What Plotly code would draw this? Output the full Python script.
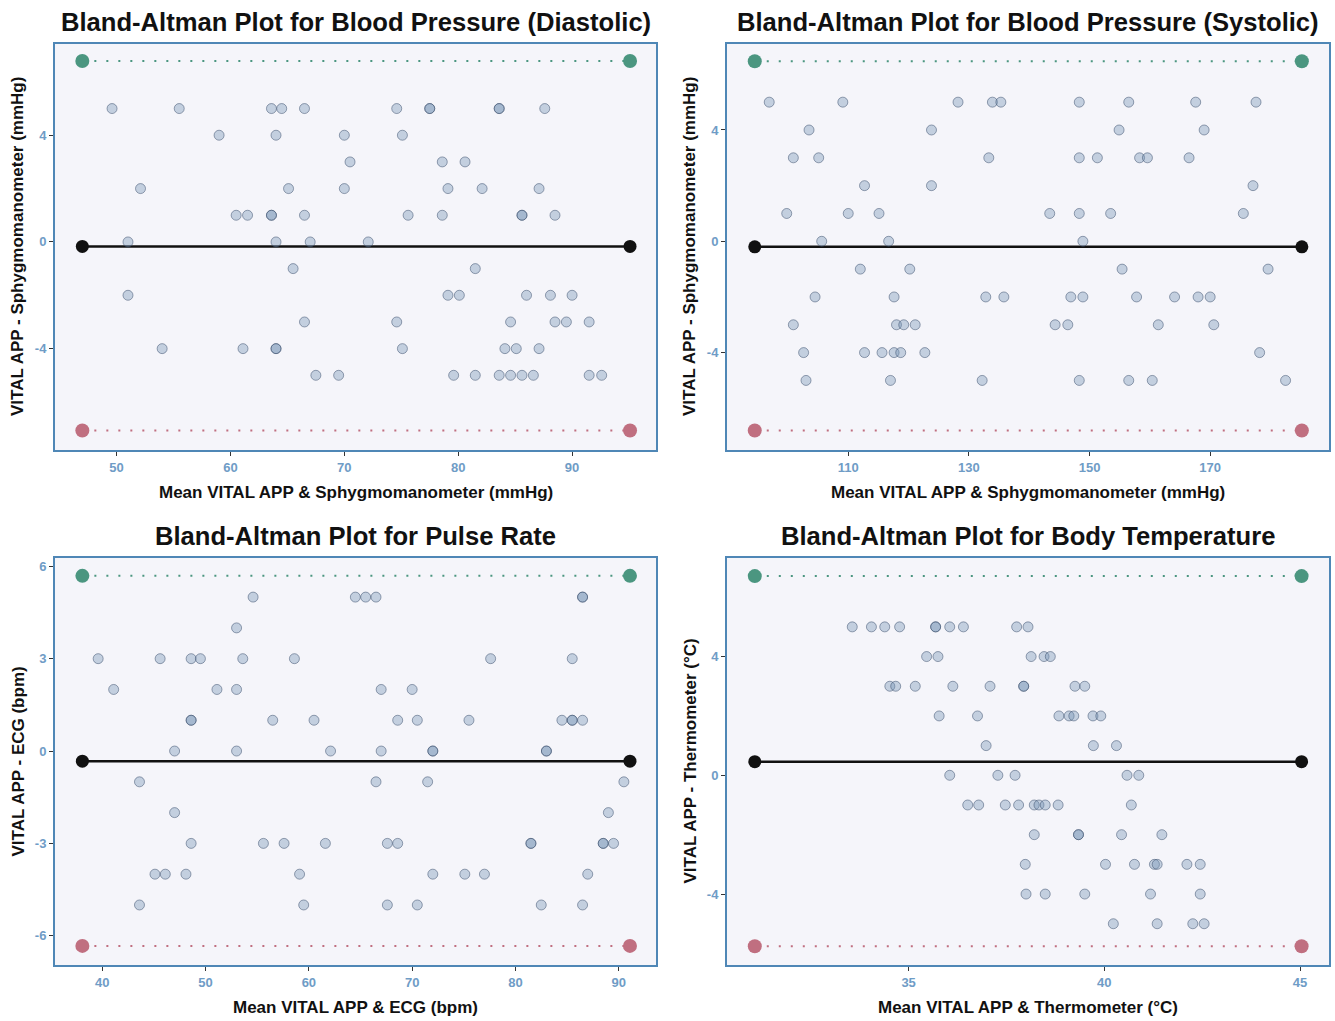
import plotly.graph_objects as go

# ---------------- data ----------------
# Diastolic blood pressure
dia_mean = [49.6, 55.5, 63.6, 64.5, 66.5, 74.6, 77.5, 77.5, 83.6, 83.6, 87.6,
            59.0, 64.0, 70.0, 75.1,
            70.5, 78.6, 80.6,
            52.1, 65.1, 70.0, 79.1, 82.1, 87.1,
            60.5, 61.5, 63.6, 63.6, 66.5, 75.6, 78.6, 85.6, 85.6, 88.5,
            51.0, 64.0, 67.0, 72.1,
            65.5, 81.5,
            51.0, 79.1, 80.1, 86.0, 88.1, 90.0,
            66.5, 74.6, 84.6, 88.5, 89.5, 91.5,
            54.0, 61.1, 64.0, 64.0, 75.1, 84.1, 85.1, 87.1,
            67.5, 69.5, 79.6, 81.5, 83.6, 84.6, 85.6, 86.6, 91.5, 92.6]
dia_diff = [5] * 11 + [4] * 4 + [3] * 3 + [2] * 6 + [1] * 10 + [0] * 4 + [-1] * 2 + \
           [-2] * 6 + [-3] * 6 + [-4] * 8 + [-5] * 10
dia_bias = -0.17
dia_upper = 6.78
dia_lower = -7.07
dia_line_x = [46.99, 95.09]

# Systolic blood pressure
sys_mean = [96.9, 109.1, 128.2, 133.9, 135.3, 148.3, 156.5, 167.6, 177.6,
            103.5, 123.8, 154.9, 169.0,
            100.9, 105.1, 133.3, 148.3, 151.3, 158.3, 159.6, 166.5,
            112.7, 123.8, 177.1,
            99.8, 110.0, 115.1, 143.4, 148.3, 153.5, 175.5,
            105.6, 116.7, 148.9,
            112.0, 120.2, 155.4, 179.6,
            104.5, 117.6, 132.8, 135.8, 146.9, 148.9, 157.8, 164.1, 168.0, 170.0,
            100.9, 118.0, 119.2, 121.1, 144.3, 146.4, 161.4, 170.6,
            102.6, 112.7, 115.6, 117.6, 118.7, 122.7, 178.2,
            103.0, 117.0, 132.2, 148.3, 156.5, 160.4, 182.5]
sys_diff = [5] * 9 + [4] * 4 + [3] * 8 + [2] * 3 + [1] * 7 + [0] * 3 + [-1] * 4 + \
           [-2] * 10 + [-3] * 8 + [-4] * 7 + [-5] * 7
sys_bias = -0.20
sys_upper = 6.47
sys_lower = -6.80
sys_line_x = [94.5, 185.2]

# Pulse rate
pr_mean = [54.6, 64.5, 65.5, 66.5, 86.5, 86.5,
           53.0,
           39.6, 45.6, 48.6, 49.5, 53.6, 58.6, 77.6, 85.5,
           41.1, 51.1, 53.0, 67.0, 70.0,
           48.6, 48.6, 56.5, 60.5, 68.6, 70.5, 75.5, 84.5, 85.5, 85.5, 86.5,
           47.0, 53.0, 62.1, 67.0, 72.0, 72.0, 83.0, 83.0,
           43.6, 66.5, 71.5, 90.5,
           47.0, 89.0,
           48.6, 55.6, 57.6, 61.6, 67.6, 68.6, 81.5, 81.5, 88.5, 88.5, 89.5,
           45.1, 46.1, 48.1, 59.1, 72.0, 75.1, 77.0, 87.0,
           43.6, 59.5, 67.6, 70.5, 82.5, 86.5]
pr_diff = [5] * 6 + [4] * 1 + [3] * 8 + [2] * 5 + [1] * 11 + [0] * 8 + [-1] * 4 + \
          [-2] * 2 + [-3] * 11 + [-4] * 8 + [-5] * 6
pr_bias = -0.33
pr_upper = 5.69
pr_lower = -6.33
pr_line_x = [38.07, 91.09]

# Body temperature
bt_mean = [33.56, 34.05, 34.39, 34.77, 35.69, 35.69, 36.05, 36.40, 37.76, 38.05,
           35.46, 35.75, 38.13, 38.46, 38.62,
           34.52, 34.67, 35.17, 36.13, 37.08, 37.94, 37.94, 39.25, 39.50,
           35.78, 36.76, 38.84, 39.10, 39.22, 39.71, 39.91,
           36.98, 39.72, 40.31,
           36.05, 37.28, 37.72, 40.58, 40.88,
           36.51, 36.79, 37.47, 37.81, 38.21, 38.33, 38.49, 38.82, 40.69,
           38.21, 39.34, 39.34, 40.44, 41.47,
           37.98, 40.03, 40.77, 41.28, 41.35, 42.11, 42.45,
           38.00, 38.49, 39.50, 41.18, 42.45,
           40.23, 41.35, 42.26, 42.55]
bt_diff = [5] * 10 + [4] * 5 + [3] * 9 + [2] * 7 + [1] * 3 + [0] * 5 + [-1] * 9 + \
          [-2] * 5 + [-3] * 7 + [-4] * 5 + [-5] * 4
bt_bias = 0.46
bt_upper = 6.71
bt_lower = -5.76
bt_line_x = [31.07, 45.04]

titles = ["Bland-Altman Plot for Blood Pressure (Diastolic)",
          "Bland-Altman Plot for Blood Pressure (Systolic)",
          "Bland-Altman Plot for Pulse Rate",
          "Bland-Altman Plot for Body Temperature"]
x_titles = ["Mean VITAL APP & Sphygmomanometer (mmHg)",
            "Mean VITAL APP & Sphygmomanometer (mmHg)",
            "Mean VITAL APP & ECG (bpm)",
            "Mean VITAL APP & Thermometer (°C)"]
y_titles = ["VITAL APP - Sphygmomanometer (mmHg)",
            "VITAL APP - Sphygmomanometer (mmHg)",
            "VITAL APP - ECG (bpm)",
            "VITAL APP - Thermometer (°C)"]
x_ticks = [[50, 60, 70, 80, 90], [110, 130, 150, 170], [40, 50, 60, 70, 80, 90], [35, 40, 45]]
y_ticks = [[-4, 0, 4], [-4, 0, 4], [-6, -3, 0, 3, 6], [-4, 0, 4]]

# ---------------- layout geometry ----------------
W, H = 1335, 1021
x_ranges = [[44.59, 97.37], [89.9, 189.7], [35.42, 93.61], [30.36, 45.74]]
y_ranges = [[-7.80, 7.42], [-7.50, 7.09], [-6.95, 6.27], [-6.39, 7.32]]
# pixel boxes (left, right, top, bottom)
boxes = [(55, 656, 44, 450), (727, 1329, 44, 450), (55, 656, 558, 965), (727, 1329, 558, 965)]

panels = [
    (dia_mean, dia_diff, dia_bias, dia_upper, dia_lower, dia_line_x),
    (sys_mean, sys_diff, sys_bias, sys_upper, sys_lower, sys_line_x),
    (pr_mean, pr_diff, pr_bias, pr_upper, pr_lower, pr_line_x),
    (bt_mean, bt_diff, bt_bias, bt_upper, bt_lower, bt_line_x),
]

GREEN = "#4b9680"
ROSE = "#c06f80"
BORDER = "#4f87b6"
TICKC = "#6f9cc6"
FONT = "Liberation Sans, Arial, sans-serif"

fig = go.Figure()
layout = dict(width=W, height=H, margin=dict(l=0, r=0, t=0, b=0),
              paper_bgcolor="white", plot_bgcolor="#f5f5fa", showlegend=False,
              font=dict(family=FONT))
annotations = []

for i, (mx, dy, bias, up, lo, lx) in enumerate(panels):
    n = i + 1
    xa = "x" if n == 1 else f"x{n}"
    ya = "y" if n == 1 else f"y{n}"
    l, r, t, b = boxes[i]
    xdom = [l / W, r / W]
    ydom = [1 - b / H, 1 - t / H]
    axis_common = dict(showgrid=False, zeroline=False, showline=True, mirror=True,
                       linecolor=BORDER, linewidth=2, ticks="outside", ticklen=4,
                       tickwidth=1, tickcolor="#333333",
                       tickfont=dict(family=FONT, size=13, color=TICKC, weight="bold"))
    layout["xaxis" if n == 1 else f"xaxis{n}"] = dict(
        domain=xdom, range=x_ranges[i], anchor=ya, tickvals=x_ticks[i],
        ticktext=[str(v) for v in x_ticks[i]], **axis_common)
    layout["yaxis" if n == 1 else f"yaxis{n}"] = dict(
        domain=ydom, range=y_ranges[i], anchor=xa, tickvals=y_ticks[i],
        ticktext=[str(v) for v in y_ticks[i]], **axis_common)

    # limits of agreement and bias
    fig.add_trace(go.Scatter(x=lx, y=[up, up], mode="lines+markers", xaxis=xa, yaxis=ya,
                             line=dict(color=GREEN, width=2, dash="2px,10px"),
                             marker=dict(size=14, color=GREEN), hoverinfo="skip"))
    fig.add_trace(go.Scatter(x=lx, y=[lo, lo], mode="lines+markers", xaxis=xa, yaxis=ya,
                             line=dict(color=ROSE, width=2, dash="2px,10px"),
                             marker=dict(size=14, color=ROSE), hoverinfo="skip"))
    fig.add_trace(go.Scatter(x=lx, y=[bias, bias], mode="lines+markers", xaxis=xa, yaxis=ya,
                             line=dict(color="#111111", width=2.5),
                             marker=dict(size=13, color="#111111"), hoverinfo="skip"))
    # data points
    fig.add_trace(go.Scatter(x=mx, y=dy, mode="markers", xaxis=xa, yaxis=ya,
                             marker=dict(size=10, color="rgba(120,150,182,0.40)",
                                         line=dict(color="rgba(55,75,105,0.50)", width=1))))

    cx = (l + r) / 2
    annotations.append(dict(text=f"<b>{titles[i]}</b>", xref="paper", yref="paper",
                            x=cx / W, y=1 - (t - 22) / H, xanchor="center", yanchor="middle",
                            showarrow=False, font=dict(family=FONT, size=25.6, color="#111111")))
    annotations.append(dict(text=f"<b>{x_titles[i]}</b>", xref="paper", yref="paper",
                            x=cx / W, y=1 - (b + 42) / H, xanchor="center", yanchor="middle",
                            showarrow=False, font=dict(family=FONT, size=17, color="#111111")))
    annotations.append(dict(text=f"<b>{y_titles[i]}</b>", xref="paper", yref="paper",
                            x=(l - 37) / W, y=1 - ((t + b) / 2) / H, xanchor="center",
                            yanchor="middle", textangle=-90, showarrow=False,
                            font=dict(family=FONT, size=17, color="#111111")))

layout["annotations"] = annotations
fig.update_layout(**layout)
fig.write_html("out.html", config={"displayModeBar": False},
               post_script="document.body.style.margin='0';document.body.style.overflow='hidden';")
